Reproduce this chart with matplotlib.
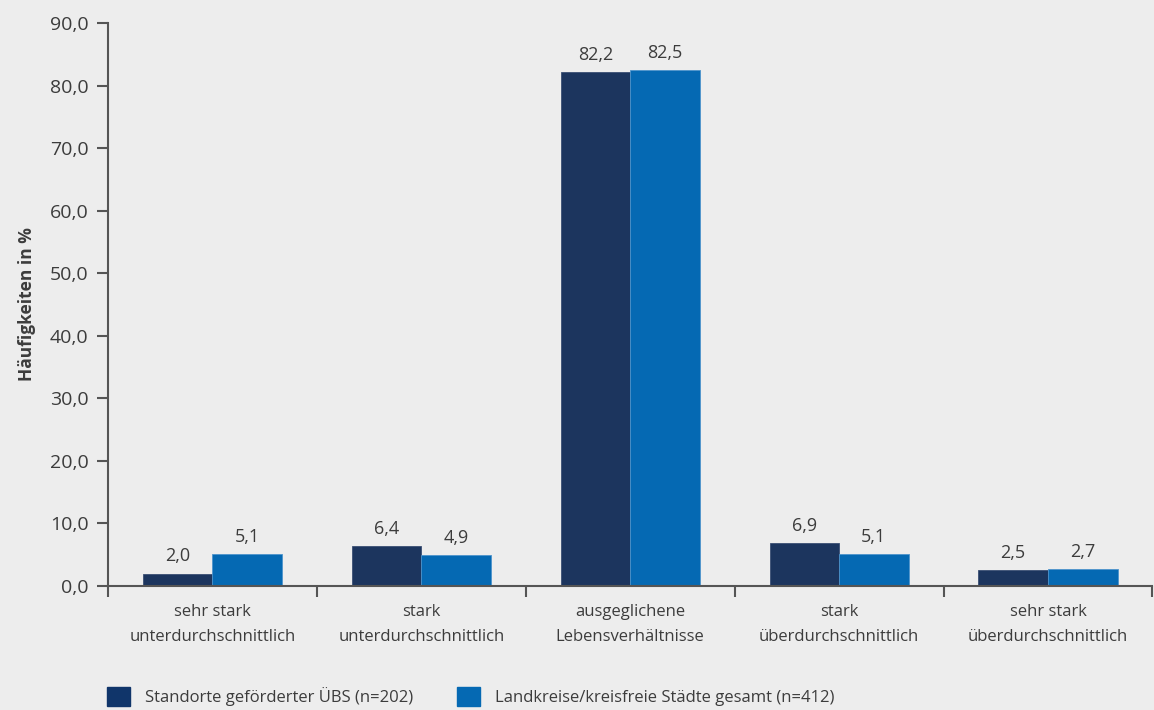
import numpy as np
import matplotlib.pyplot as plt
from matplotlib.patches import Patch

plt.rcParams['font.family'] = ['Open Sans', 'DejaVu Sans']

# Data
categories = ["sehr stark\nunterdurchschnittlich", "stark\nunterdurchschnittlich",
              "ausgeglichene\nLebensverhältnisse", "stark\nüberdurchschnittlich",
              "sehr stark\nüberdurchschnittlich"]
uebs = [2.0, 6.4, 82.2, 6.9, 2.5]
gesamt = [5.1, 4.9, 82.5, 5.1, 2.7]
series_names = ["Standorte geförderter ÜBS (n=202)",
                "Landkreise/kreisfreie Städte gesamt (n=412)"]
yticks = np.arange(0, 91, 10)

bg = "#ededed"
dark = "#1c355e"
blue = "#0569b3"
txt = "#3c3c3c"
axc = "#555555"

fig = plt.figure(figsize=(11.54, 7.1), dpi=100, facecolor=bg)
ax = fig.add_axes([0.0936, 0.1746, 0.905, 0.793], facecolor=bg)

x = np.arange(len(categories)) + 0.5
w = 0.333
b1 = ax.bar(x - w / 2, uebs, w, color=dark, edgecolor="#3a4f73", linewidth=0.6)
b2 = ax.bar(x + w / 2, gesamt, w, color=blue, edgecolor="#4d94cc", linewidth=0.6)

def fmt(v):
    return f"{v:.1f}".replace(".", ",")

for bars, vals in ((b1, uebs), (b2, gesamt)):
    for r, v in zip(bars, vals):
        ax.text(r.get_x() + r.get_width() / 2, v + 1.3, fmt(v), ha="center",
                va="bottom", fontsize=13, color=txt)

ax.set_xlim(0, len(categories))
ax.set_ylim(0, 90)
ax.set_yticks(yticks)
ax.set_yticklabels([fmt(t) for t in yticks], fontsize=14, color=txt)
ax.set_xticks(np.arange(len(categories) + 1))
ax.set_xticklabels([])
ax.set_xticks(x, minor=True)
ax.set_xticklabels(categories, minor=True, fontsize=12, color=txt, linespacing=1.75)
ax.tick_params(axis="x", which="minor", length=0, pad=13)
ax.tick_params(axis="x", which="major", length=8, width=1.5, color=axc)
ax.tick_params(axis="y", length=8, width=1.5, color=axc, pad=6)

for s in ("top", "right"):
    ax.spines[s].set_visible(False)
for s in ("left", "bottom"):
    ax.spines[s].set_color(axc)
    ax.spines[s].set_linewidth(1.5)

ax.set_ylabel("Häufigkeiten in %", fontsize=12.5, fontweight="bold", color=txt, labelpad=10)

handles = [Patch(facecolor="#10356a", edgecolor="#10356a"),
           Patch(facecolor=blue, edgecolor=blue)]
fig.legend(handles, series_names, loc="lower left", bbox_to_anchor=(0.0927, 0.005),
           ncol=2, frameon=False, fontsize=12, labelcolor=txt,
           borderpad=0, borderaxespad=0,
           handlelength=1.4, handleheight=1.4, handletextpad=0.9, columnspacing=2.6)

fig.savefig("out.png", dpi=100, facecolor=bg)
